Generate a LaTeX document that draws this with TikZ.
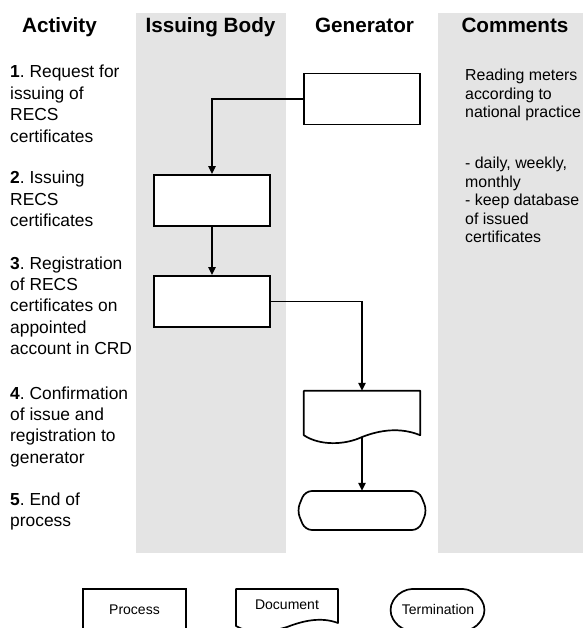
\documentclass[tikz,border=0pt]{standalone}
\usepackage{fontspec}
\setmainfont{Liberation Sans}
\usetikzlibrary{arrows.meta}
\definecolor{lanegray}{HTML}{E4E4E4}
\frenchspacing
\begin{document}
\begin{tikzpicture}[x=1pt,y=-1pt,
  box/.style={draw,line width=1.9pt,minimum width=116pt,minimum height=51pt,inner sep=0pt,fill=white},
  flow/.style={line width=1.4pt,-{Triangle[length=8pt,width=7.5pt]}},
  outline/.style={draw,line width=1.7pt,line join=round,fill=white},
  head/.style={anchor=base,inner sep=0pt,font=\fontsize{20.7}{24}\selectfont\bfseries},
  act/.style={anchor=base west,inner sep=0pt,font=\fontsize{17.4}{21.4}\selectfont},
  cmt/.style={anchor=base west,inner sep=0pt,font=\fontsize{15.9}{18.6}\selectfont},
  legendtext/.style={inner sep=0pt,font=\fontsize{14}{16}\selectfont}
]
\useasboundingbox (0,0) rectangle (583,628);
\clip (0,0) rectangle (583,628);
% lanes
\fill[lanegray] (136,13) rectangle (286,553);
\fill[lanegray] (438,13) rectangle (583,553);
% headers
\node[head] (h1) at (59.5,33) {Activity};
\node[head] (h2) at (210.5,33) {Issuing Body};
\node[head] (h3) at (364.5,33) {Generator};
\node[head] (h4) at (515,33) {Comments};
% activity texts
\node[act] (a1) at (10,78) {\parbox[t]{160pt}{\raggedright\textbf{1}. Request for\\issuing of\\RECS\\certificates}};
\node[act] (a2) at (10,184) {\parbox[t]{160pt}{\raggedright\textbf{2}. Issuing\\RECS\\certificates}};
\node[act] (a3) at (10,269) {\parbox[t]{160pt}{\raggedright\textbf{3}. Registration\\of RECS\\certificates on\\appointed\\account in CRD}};
\node[act] (a4) at (10,399) {\parbox[t]{160pt}{\raggedright\textbf{4}. Confirmation\\of issue and\\registration to\\generator}};
\node[act] (a5) at (10,505) {\parbox[t]{160pt}{\raggedright\textbf{5}. End of\\process}};
% comments
\node[cmt] (c1) at (465,80.5) {\parbox[t]{200pt}{\raggedright Reading meters\\according to\\national practice}};
\node[cmt] (c2) at (465,168.5) {\parbox[t]{200pt}{\raggedright - daily, weekly,\\monthly\\- keep database\\of issued\\certificates}};
% flow boxes
\node[box] (gen1) at (362,99) {};
\node[box] (ib2) at (212,200.5) {};
\node[box] (ib3) at (212,301.5) {};
\node[inner sep=0pt,minimum width=116pt,minimum height=44pt] (doc) at (362,413) {};
\path[outline] (doc.north west) -- (doc.south west)
  .. controls (320,446) and (345,445) .. (362,437)
  .. controls (380,430) and (400,427) .. (doc.south east) -- (doc.north east) -- cycle;
\coordinate (docb) at (362,437);
\node[inner sep=0pt,minimum width=130pt,minimum height=39pt] (term) at (362,510.5) {};
\path[outline,rounded corners=7pt] (305,491) -- (419,491) -- (427,510.5) -- (419,530)
  -- (305,530) -- (297,510.5) -- cycle;
% connectors
\draw[flow] (gen1.west) -| (ib2.north);
\draw[flow] (ib2.south) -- (ib3.north);
\draw[flow] (ib3.east) -| (doc.north);
\draw[flow] (docb) -- (term.north);
% legend
\node[draw,line width=1.7pt,minimum width=103pt,minimum height=42pt,inner sep=0pt,font=\fontsize{14}{16}\selectfont] (lproc) at (134.5,610) {Process};
\path[outline] (236,589) -- (236,626)
  .. controls (248,633) and (264,634) .. (287,627)
  .. controls (305,620) and (322,617) .. (338,623) -- (338,589) -- cycle;
\node[legendtext,minimum width=102pt,minimum height=34pt] (ldoc) at (287,605) {Document};
\path[outline,rounded corners=11pt] (401,589) -- (474,589) -- (488,610) -- (474,631)
  -- (401,631) -- (387,610) -- cycle;
\node[legendtext,minimum width=101pt,minimum height=42pt] (lterm) at (438,609) {Termination};
\end{tikzpicture}
\end{document}
